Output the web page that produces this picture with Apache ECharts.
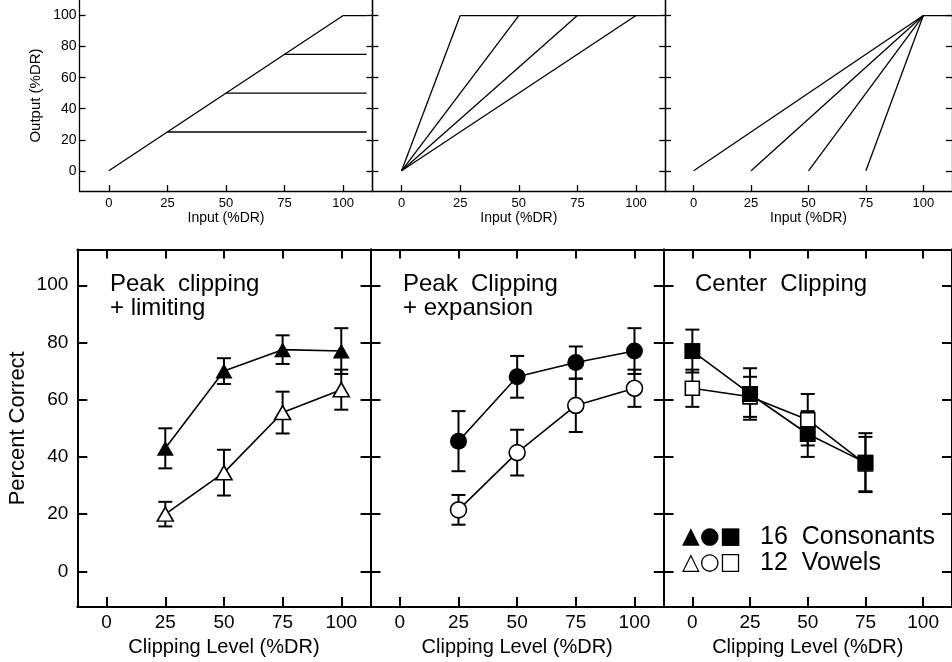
<!DOCTYPE html>
<html><head><meta charset="utf-8">
<script src="https://cdn.jsdelivr.net/npm/echarts@6/dist/echarts.min.js"></script>
<style>html,body{margin:0;padding:0;background:#fff}#c{width:952px;height:662px}</style>
</head><body><div id="c"></div>
<script>
// ---------- tick labels ----------
const inputTicks = [0, 25, 50, 75, 100];
const outputTicks = [0, 20, 40, 60, 80, 100];
const clipTicks = [0, 25, 50, 75, 100];
const pctTicks = [0, 20, 40, 60, 80, 100];

// ---------- top row: input/output functions (polyline vertices, %DR) ----------
const limitingLines = [
  [[0, 0], [100, 100], [110, 100]],
  [[25, 25], [110, 25]],
  [[50, 50], [110, 50]],
  [[75, 75], [110, 75]]
];
const expansionLines = [
  [[0, 0], [25, 100]],
  [[0, 0], [50, 100]],
  [[0, 0], [75, 100]],
  [[0, 0], [100, 100]],
  [[25, 100], [110, 100]]
];
const centerLines = [
  [[0, 0], [100, 100]],
  [[25, 0], [100, 100]],
  [[50, 0], [100, 100]],
  [[75, 0], [100, 100]],
  [[100, 100], [112.5, 100]]
];

// ---------- bottom row: percent correct ----------
const peakLevels = [25, 50, 75, 100];
const centerLevels = [0, 25, 50, 75];

const limConsonants = [43, 70, 77.5, 77];
const limConsonantsErr = [7, 4.5, 5, 8];
const limVowels = [20, 34.5, 55.5, 63.5];
const limVowelsErr = [4.3, 8, 7.3, 7];

const expConsonants = [45.5, 68, 73, 77];
const expConsonantsErr = [10.5, 7.3, 5.6, 8];
const expVowels = [21.5, 41.5, 58, 64];
const expVowelsErr = [5.2, 8, 9.3, 6.5];

const cenConsonants = [77, 62, 48, 38];
const cenConsonantsErr = [7.5, 9, 8, 10.3];
const cenVowels = [64, 61, 53, 37.5];
const cenVowelsErr = [6.5, 7, 9, 9.5];

const panelTitles = ['Peak  clipping\n+ limiting', 'Peak  Clipping\n+ expansion', 'Center  Clipping'];
const legendSymbols = ['▲●■', '△○□'];
const legendLabels = ['16  Consonants', '12  Vowels'];

// ---------- build option ----------
const FONT = 'Liberation Sans';
const BLACK = '#000';
const topLefts = [79.5, 372.3, 665];
const botLefts = [77.3, 370.5, 663.5];

const grid = [];
topLefts.forEach(l => grid.push({left: l, top: 0, width: 293, height: 191}));
botLefts.forEach(l => grid.push({left: l, top: 249.5, width: 293.3, height: 359}));

function axisBase(lw, tickLen, ticks) {
  return {
    type: 'value', splitLine: {show: false},
    axisLine: {show: true, onZero: false, lineStyle: {color: BLACK, width: lw}},
    axisTick: {show: true, inside: true, length: tickLen, customValues: ticks, lineStyle: {color: BLACK, width: lw}},
  };
}

const xAxis = [];
// 0..2 : top row bottom axes
for (let i = 0; i < 3; i++) {
  xAxis.push(Object.assign(axisBase(1.3, 6, inputTicks), {
    gridIndex: i, position: 'bottom', min: -12.5, max: 112.5,
    axisLabel: {show: true, customValues: inputTicks, margin: 6, fontSize: 13, color: BLACK, fontFamily: FONT},
    name: 'Input (%DR)', nameLocation: 'middle', nameGap: 20,
    nameTextStyle: {fontSize: 14, color: BLACK, fontFamily: FONT}
  }));
}
// 3..5 : bottom row bottom axes
for (let i = 0; i < 3; i++) {
  xAxis.push(Object.assign(axisBase(2, 10, clipTicks), {
    gridIndex: 3 + i, position: 'bottom', min: -12.5, max: 112.5,
    axisLabel: {show: true, customValues: clipTicks, margin: 6, fontSize: 19, color: BLACK, fontFamily: FONT},
    name: 'Clipping Level (%DR)', nameLocation: 'middle', nameGap: 27,
    nameTextStyle: {fontSize: 20, color: BLACK, fontFamily: FONT}
  }));
}
// 6..8 : bottom row top axes
for (let i = 0; i < 3; i++) {
  xAxis.push(Object.assign(axisBase(2, 9, clipTicks), {
    gridIndex: 3 + i, position: 'top', min: -12.5, max: 112.5,
    axisLabel: {show: false}
  }));
}

const yAxis = [];
// 0..2 top row left, 3..5 top row right
for (let i = 0; i < 3; i++) {
  yAxis.push(Object.assign(axisBase(1.3, 6, outputTicks), {
    gridIndex: i, position: 'left', min: -13, max: 110,
    axisLabel: {show: i === 0, customValues: outputTicks, margin: 3, fontSize: 14, color: BLACK, fontFamily: FONT},
    name: i === 0 ? 'Output (%DR)' : '', nameLocation: 'middle', nameGap: 36,
    nameTextStyle: {fontSize: 15, color: BLACK, fontFamily: FONT}
  }));
}
for (let i = 0; i < 3; i++) {
  yAxis.push(Object.assign(axisBase(1.3, 6, outputTicks), {
    gridIndex: i, position: 'right', min: -13, max: 110, axisLabel: {show: false}
  }));
}
// 6..8 bottom row left, 9..11 bottom row right
for (let i = 0; i < 3; i++) {
  yAxis.push(Object.assign(axisBase(2, 10, pctTicks), {
    gridIndex: 3 + i, position: 'left', min: -12.5, max: 112.5,
    axisLabel: {show: i === 0, customValues: pctTicks, margin: 9, fontSize: 19, color: BLACK, fontFamily: FONT},
    name: i === 0 ? 'Percent Correct' : '', nameLocation: 'middle', nameGap: 48,
    nameTextStyle: {fontSize: 22, color: BLACK, fontFamily: FONT}
  }));
}
for (let i = 0; i < 3; i++) {
  yAxis.push(Object.assign(axisBase(2, 10, pctTicks), {
    gridIndex: 3 + i, position: 'right', min: -12.5, max: 112.5, axisLabel: {show: false}
  }));
}

const series = [];
// top-row function lines
[limitingLines, expansionLines, centerLines].forEach((lines, i) => {
  lines.forEach(pts => {
    series.push({
      type: 'line', xAxisIndex: i, yAxisIndex: i, data: pts, symbol: 'none',
      lineStyle: {color: BLACK, width: 1.3}, silent: true, z: 3
    });
  });
});

function errorSeries(levels, vals, errs, panel, lw) {
  return {
    type: 'custom', xAxisIndex: 3 + panel, yAxisIndex: 6 + panel, z: 2, silent: true,
    encode: {x: 0, y: [1, 2]},
    data: levels.map((x, k) => [x, vals[k] - errs[k], vals[k] + errs[k]]),
    renderItem: function (params, api) {
      const lo = api.coord([api.value(0), api.value(1)]);
      const hi = api.coord([api.value(0), api.value(2)]);
      const w = 7;
      const st = {stroke: BLACK, lineWidth: lw};
      return {type: 'group', children: [
        {type: 'line', shape: {x1: lo[0], y1: lo[1], x2: hi[0], y2: hi[1]}, style: st},
        {type: 'line', shape: {x1: lo[0] - w, y1: lo[1], x2: lo[0] + w, y2: lo[1]}, style: st},
        {type: 'line', shape: {x1: hi[0] - w, y1: hi[1], x2: hi[0] + w, y2: hi[1]}, style: st}
      ]};
    }
  };
}
function markerSeries(levels, vals, panel, symbol, size, filled, z) {
  return {
    type: 'line', xAxisIndex: 3 + panel, yAxisIndex: 6 + panel, silent: true, z: z,
    data: levels.map((x, k) => [x, vals[k]]),
    symbol: symbol, symbolSize: size, showSymbol: true,
    lineStyle: {color: BLACK, width: 1.6},
    itemStyle: {color: filled ? BLACK : '#fff', borderColor: BLACK, borderWidth: filled ? 0 : 1.6, opacity: 1}
  };
}

const panels = [
  {levels: peakLevels, c: limConsonants, ce: limConsonantsErr, v: limVowels, ve: limVowelsErr, sym: 'triangle', cs: [17, 15], vs: [16, 14]},
  {levels: peakLevels, c: expConsonants, ce: expConsonantsErr, v: expVowels, ve: expVowelsErr, sym: 'circle', cs: 17, vs: 16},
  {levels: centerLevels, c: cenConsonants, ce: cenConsonantsErr, v: cenVowels, ve: cenVowelsErr, sym: 'rect', cs: 16, vs: 14}
];
panels.forEach((p, i) => {
  series.push(errorSeries(p.levels, p.v, p.ve, i, 2));
  series.push(errorSeries(p.levels, p.c, p.ce, i, 2));
  series.push(markerSeries(p.levels, p.v, i, p.sym, p.vs, false, 4));
  series.push(markerSeries(p.levels, p.c, i, p.sym, p.cs, true, 5));
});

const titleStyle = {fontSize: 24, lineHeight: 24, fontWeight: 'normal', color: BLACK, fontFamily: FONT};
const title = [
  {text: panelTitles[0], left: 110, top: 272, padding: 0, textStyle: titleStyle},
  {text: panelTitles[1], left: 403, top: 272, padding: 0, textStyle: titleStyle},
  {text: panelTitles[2], left: 695, top: 272, padding: 0, textStyle: titleStyle},
  {text: legendSymbols.join('\n'), left: 682, top: 524, padding: 0,
   textStyle: {fontSize: 23, lineHeight: 26, fontWeight: 'normal', color: BLACK, fontFamily: 'DejaVu Sans'}},
  {text: legendLabels.join('\n'), left: 760, top: 524, padding: 0,
   textStyle: {fontSize: 25, lineHeight: 26, fontWeight: 'normal', color: BLACK, fontFamily: FONT}}
];

const chart = echarts.init(document.getElementById('c'), null, {renderer: 'canvas'});
chart.setOption({
  animation: false, backgroundColor: '#fff',
  textStyle: {fontFamily: FONT},
  title: title, grid: grid, xAxis: xAxis, yAxis: yAxis, series: series
});
</script></body></html>
